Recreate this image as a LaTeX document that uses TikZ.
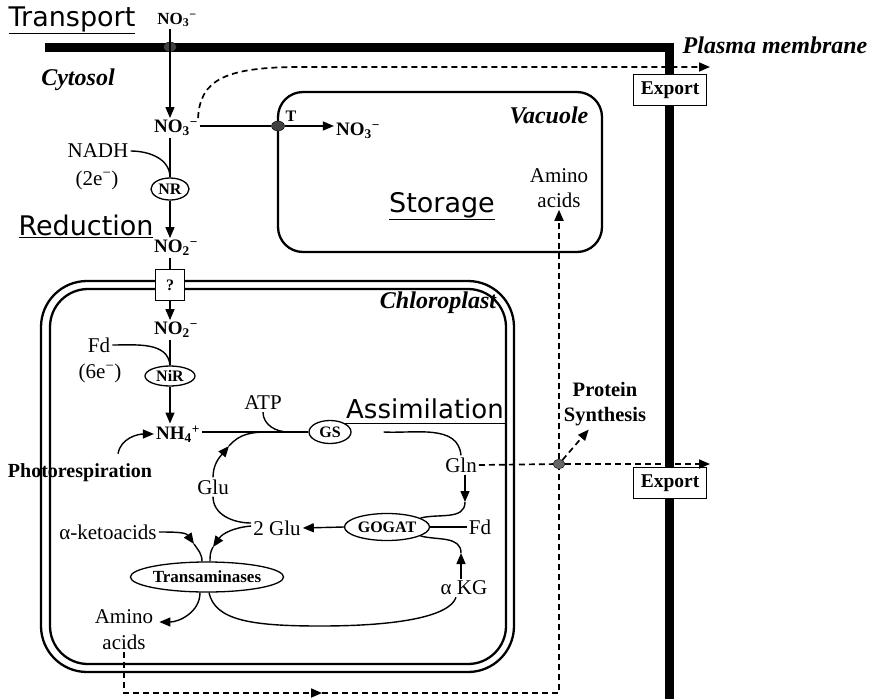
\documentclass[tikz,border=0pt]{standalone}
\usepackage{fontspec}
\setmainfont{Liberation Serif}
\newfontfamily\handfont{DejaVu Sans}
\usetikzlibrary{arrows.meta,shapes.geometric}

\newcommand{\fsz}[1]{\fontsize{#1}{#1}\selectfont}

\tikzset{
  enz/.style={ellipse,draw,line width=1.3pt,inner sep=0pt,font=\fsz{16}\bfseries},
  mol/.style={inner sep=2pt,font=\fsz{21}},
  ion/.style={inner sep=2pt,font=\fsz{19}\bfseries},
  lbl/.style={inner sep=2pt,font=\fsz{20}\bfseries,align=center},
  compart/.style={inner sep=2pt,font=\fsz{24}\bfseries\itshape},
  stage/.style={inner sep=0pt,font=\fsz{27}\handfont},
  exportbox/.style={draw,line width=1.1pt,fill=white,minimum width=73pt,minimum height=31pt,inner sep=0pt,font=\fsz{19.5}\bfseries},
  porter/.style={ellipse,fill=black!75,draw=black,minimum width=13pt,minimum height=10pt,inner sep=0pt},
  flow/.style={line width=1.4pt},
  dflow/.style={line width=1.7pt,dash pattern=on 6pt off 4pt},
  membrane/.style={line width=2.3pt},
}

\begin{document}
\begin{tikzpicture}[x=1pt,y=1pt,>={Triangle[length=11pt,width=9pt]}]
\useasboundingbox (0,0) rectangle (880,-699);
% membranes
\draw[line width=9pt] (45,-47) -- (669,-47) -- (669,-699);
\draw[membrane,rounded corners=25pt] (278,-92) rectangle (602,-252);
\draw[membrane,rounded corners=46pt] (41,-281) rectangle (514,-672);
\draw[membrane,rounded corners=38pt] (50,-289) rectangle (506,-664);

% labels
\node[stage] (transport) at (72,-20) {\underline{Transport}};
\node[ion,font=\fsz{17}\bfseries] (no3top) at (177,-20) {NO\textsubscript{3}\textsuperscript{−}};
\node[porter] (tp) at (170,-47) {};
\node[compart] (cytosol) at (78,-80) {Cytosol};
\node[compart] (pm) at (775,-45) {Plasma membrane};
\node[ion] (no3cyt) at (176,-128) {NO\textsubscript{3}\textsuperscript{−}};
\node[porter] (tdot) at (278,-126) {};
\node[font=\fsz{16}\bfseries] (tlab) at (291,-116) {T};
\node[ion] (no3vac) at (358,-131) {NO\textsubscript{3}\textsuperscript{−}};
\node[compart] (vacuole) at (549,-115) {Vacuole};
\node[mol,align=center,font=\fontsize{21}{25}\selectfont] (aavac) at (559,-188) {Amino\\acids};
\node[stage] (storage) at (442,-206) {\underline{Storage}};
\node[mol] (nadh) at (98,-151) {NADH};
\node[mol] (e2) at (97,-180) {(2e\textsuperscript{−})};
\node[enz,minimum width=38pt,minimum height=22pt] (nr) at (170,-189) {NR};
\node[stage] (reduction) at (86,-226) {\underline{Reduction}};
\node[ion] (no2cyt) at (176,-248) {NO\textsubscript{2}\textsuperscript{−}};
\node[draw,fill=white,line width=1.1pt,minimum width=29pt,minimum height=31pt,font=\fsz{16}\bfseries] (qbox) at (170,-285) {?};
\node[compart] (chl) at (438,-303) {Chloroplast};
\node[ion] (no2chl) at (176,-330) {NO\textsubscript{2}\textsuperscript{−}};
\node[mol] (fd1) at (99,-345) {Fd};
\node[mol] (e6) at (100,-373) {(6e\textsuperscript{−})};
\node[enz,minimum width=50pt,minimum height=20pt] (nir) at (170,-376) {NiR};
\node[ion] (nh4) at (178,-434) {NH\textsubscript{4}\textsuperscript{+}};
\node[lbl] (photo) at (80,-473) {Photorespiration};
\node[mol] (atp) at (263,-403) {ATP};
\node[enz,minimum width=42pt,minimum height=23pt] (gs) at (330,-432) {GS};
\node[stage,font=\fsz{26}\handfont] (assim) at (425,-409) {Assimilation};
\node[mol] (gln) at (461,-465) {Gln};
\node[mol] (glu) at (213,-487) {Glu};
\node[enz,minimum width=85pt,minimum height=27pt] (gogat) at (387,-527) {GOGAT};
\node[mol] (fd2) at (480,-527) {Fd};
\node[mol] (glu2) at (277,-528) {2 Glu};
\node[mol] (keto) at (108,-532) {α-ketoacids};
\node[mol] (akg) at (464,-588) {α KG};
\node[enz,minimum width=150pt,minimum height=30pt,font=\fsz{17}\bfseries] (trans) at (207,-577) {Transaminases};
\node[mol,align=center,font=\fontsize{21}{26}\selectfont] (aachl) at (124,-630) {Amino\\acids};
\node[lbl,font=\fontsize{20.5}{25}\selectfont\bfseries] (prot) at (605,-404) {Protein\\Synthesis};
\node[porter,fill=black!60,minimum width=12pt,minimum height=9pt] (pdot) at (559,-464) {};
\node[exportbox] (exp1) at (670,-90) {Export};
\node[exportbox] (exp2) at (670,-483) {Export};

% nitrate uptake and reduction
\draw[flow,->] (no3top.south -| tp) -- (no3cyt.north -| tp);
\draw[flow] (no3cyt.east |- tdot) -- (tdot);
\draw[flow,->] (tdot) -- (tdot -| no3vac.west);
\coordinate (expA) at (710,-67);
\draw[dflow,->] ([xshift=-2pt]no3cyt.north east) .. controls (200,-80) and (225,-67) .. (300,-67) -- (expA);
\draw[flow] (no3cyt.south -| nr) -- (nr.north);
\draw[flow] (nadh.east) to[out=0,in=90] (nr.north);
\draw[flow,->] (nr.south) -- (no2cyt.north -| nr);
\draw[flow] (no2cyt.south -| qbox) -- (qbox.north);
\draw[flow,->] (qbox.south) -- (no2chl.north -| qbox);
\draw[flow] (no2chl.south -| nir) -- (nir.north);
\draw[flow] (fd1.east) to[out=0,in=95] (nir.north);
\draw[flow,->] (nir.south) -- (nh4.north -| nir);
\draw[flow,->] ([xshift=38pt,yshift=8pt]photo.north) to[out=80,in=180] (nh4.west);

% GS / GOGAT cycle
\draw[flow] (nh4.east |- gs.west) -- (gs.west);
\draw[flow] (atp.south) to[out=-90,in=180] ([xshift=-20pt]gs.west);
\coordinate (gluarr) at (229,-446);
\draw[flow,->] (glu.north) to[out=90,in=-130] (gluarr);
\draw[flow] (gluarr) to[out=50,in=180] ([xshift=-40pt]gs.west);
\coordinate (chlR) at (507,-425);
\draw[flow] (gs.north east) -- (gs.north east -| chlR);
\draw[flow] ([xshift=32pt]gs.east) to[out=-3,in=95] (gln.north);
\coordinate (glnarr) at (465,-502);
\draw[flow,->] (gln.south -| glnarr) -- (glnarr);
\draw[flow] (glnarr) to[out=-90,in=15] (gogat.15);
\draw[flow] (gogat.east) -- (fd2.west);
\coordinate (akgarr) at (461,-553);
\draw[flow,->] (akg.north -| akgarr) -- (akgarr);
\draw[flow] (akgarr) to[out=90,in=-15] (gogat.-15);
\draw[flow,->] (gogat.west) -- (glu2.east);
\draw[flow] (glu.south) to[out=-90,in=180] ([yshift=5pt]glu2.west);

% transaminases
\coordinate (glutip) at (213,-547);
\draw[flow,->] ([yshift=2pt]glu2.west) to[out=185,in=55] (glutip);
\draw[flow] (glutip) to[out=-120,in=90] ([xshift=3pt]trans.north);
\coordinate (ketotip) at (194,-544);
\draw[flow,->] (keto.east) to[out=0,in=125] (ketotip);
\draw[flow] (ketotip) to[out=-55,in=90] ([xshift=-5pt]trans.north);
\draw[flow,->] ([xshift=-7pt]trans.south) to[out=-90,in=0] ([xshift=4pt,yshift=8pt]aachl.east);
\draw[flow] ([xshift=2pt]trans.south) .. controls (215,-620) and (250,-626) .. (320,-626) .. controls (400,-626) and (450,-616) .. ([xshift=-8pt]akg.south);

% amino acid traffic
\coordinate (botarr) at (322,-693);
\coordinate (bend) at (559,-693);
\draw[dflow,->] (aachl.south) |- (botarr);
\draw[dflow] (botarr) -- (bend) -- (pdot);
\draw[dflow,->] (pdot) -- (pdot |- aavac.south);
\draw[dflow] (gln.east) -- (pdot);
\coordinate (expB) at (710,-464);
\draw[dflow,->] (pdot) -- (expB);
\draw[dflow,->,shorten >=2pt] (pdot) -- ([xshift=-15pt]prot.south);
\end{tikzpicture}
\end{document}
